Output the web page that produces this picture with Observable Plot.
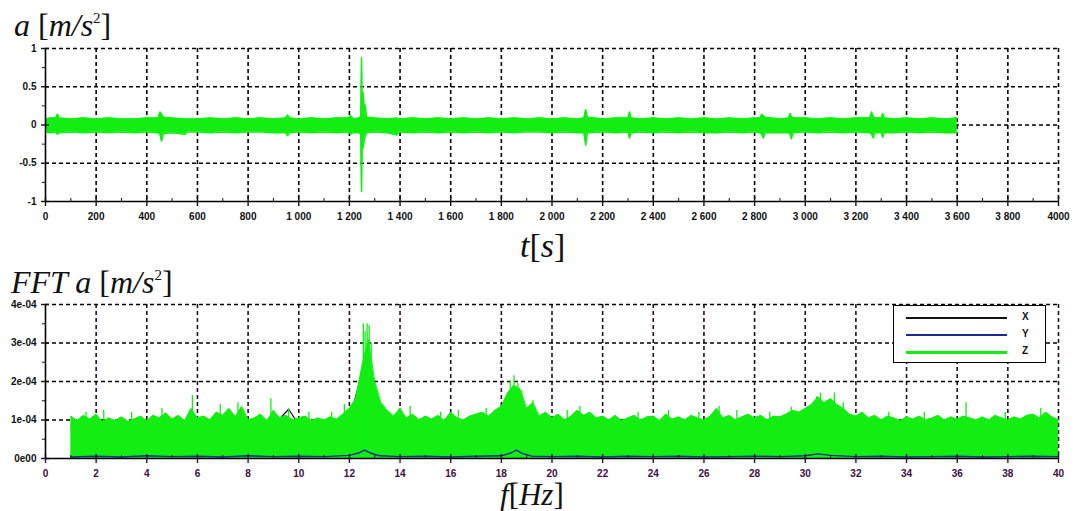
<!DOCTYPE html>
<html>
<head>
<meta charset="utf-8">
<script src="https://cdn.jsdelivr.net/npm/d3@7"></script>
<script src="https://cdn.jsdelivr.net/npm/@observablehq/plot@0.6"></script>
<style>
  html, body { margin: 0; padding: 0; background: #fff; }
  #wrap { position: relative; width: 1075px; height: 511px; overflow: hidden; background: #fff; }
  .panel { position: absolute; left: 0; }
  .ttl { position: absolute; font-family: "Liberation Serif", "DejaVu Serif", serif; font-size: 31px; color: #111; white-space: nowrap; line-height: 1; }
  .ttl sup { font-size: 15px; vertical-align: 13px; line-height: 0; }
  #legend { position: absolute; left: 893px; top: 305px; width: 151px; height: 56px; border: 1.6px solid #000; background: #fff; }
  #legend .row { position: absolute; left: 12px; width: 101px; height: 2px; }
  #legend .lab { position: absolute; left: 128px; font-family: "Liberation Sans", Arial, sans-serif; font-weight: bold; font-size: 10px; color: #111; }
</style>
</head>
<body>
<div id="wrap">
  <div id="topPlot" class="panel" style="top:0"></div>
  <div id="botPlot" class="panel" style="top:260px"></div>
  <div class="ttl" style="left:14px;top:9px;font-size:32px"><i>a</i> [<i>m/s</i><sup>2</sup>]</div>
  <div class="ttl" style="left:520px;top:229px;font-size:34px"><i>t</i>[<i>s</i>]</div>
  <div class="ttl" style="left:11px;top:266px;font-size:32px"><i>FFT a</i> [<i>m/s</i><sup>2</sup>]</div>
  <div class="ttl" style="left:500px;top:479px;font-size:31px"><i>f</i>[<i>Hz</i>]</div>
  <div id="legend"></div>
</div>
<script>
// ---------- Top panel: acceleration vs time (envelope of the signal) ----------
const accT  = [0,20,40,47,54,100,150,200,250,300,350,400,445,452,458,466,500,550,560,600,650,700,750,800,850,900,948,956,964,1000,1050,1100,1150,1195,1205,1215,1240,1245,1248,1251,1254,1258,1262,1268,1300,1350,1388,1395,1450,1500,1550,1600,1650,1700,1750,1800,1850,1900,1950,2000,2050,2100,2126,2133,2140,2200,2250,2300,2306,2312,2350,2400,2450,2500,2550,2600,2650,2700,2750,2800,2822,2828,2834,2842,2900,2935,2940,2945,2952,3000,3050,3100,3150,3200,3255,3262,3268,3275,3300,3306,3312,3350,3400,3450,3500,3550,3600];
const accHi = [.08,.09,.09,.14,.09,.08,.09,.08,.09,.08,.08,.09,.09,.17,.14,.10,.09,.08,.08,.08,.09,.08,.09,.08,.09,.08,.09,.13,.09,.08,.09,.08,.09,.09,.12,.08,.09,.12,.88,.15,.42,.25,.26,.10,.09,.08,.09,.08,.09,.08,.09,.08,.09,.08,.09,.08,.09,.08,.09,.08,.09,.08,.09,.20,.10,.08,.09,.09,.17,.09,.08,.09,.08,.09,.08,.09,.08,.09,.08,.09,.09,.14,.12,.10,.08,.09,.15,.11,.09,.09,.08,.09,.08,.09,.09,.17,.11,.09,.09,.15,.09,.08,.09,.08,.09,.08,.09];
const accLo = [-.09,-.10,-.09,-.12,-.10,-.09,-.10,-.09,-.10,-.09,-.10,-.09,-.10,-.12,-.21,-.11,-.10,-.12,-.09,-.09,-.10,-.09,-.10,-.09,-.09,-.10,-.10,-.14,-.10,-.09,-.10,-.09,-.10,-.09,-.12,-.10,-.10,-.12,-.87,-.12,-.30,-.20,-.15,-.10,-.09,-.10,-.13,-.09,-.10,-.09,-.10,-.09,-.10,-.09,-.10,-.09,-.10,-.09,-.09,-.10,-.09,-.10,-.10,-.26,-.10,-.09,-.10,-.09,-.17,-.10,-.09,-.10,-.09,-.10,-.09,-.10,-.10,-.09,-.10,-.09,-.10,-.12,-.17,-.10,-.10,-.10,-.12,-.18,-.10,-.09,-.10,-.09,-.10,-.09,-.10,-.12,-.17,-.10,-.10,-.16,-.10,-.10,-.09,-.10,-.09,-.10,-.10];

const topXTicks  = [0,200,400,600,800,1000,1200,1400,1600,1800,2000,2200,2400,2600,2800,3000,3200,3400,3600,3800,4000];
const topXLabels = ["0","200","400","600","800","1 000","1 200","1 400","1 600","1 800","2 000","2 200","2 400","2 600","2 800","3 000","3 200","3 400","3 600","3 800","4000"];
const topXMinor  = [100,300,500,700,900,1100,1300,1500,1700,1900,2100,2300,2500,2700,2900,3100,3300,3500,3700,3900];
const topYTicks  = [-1,-0.5,0,0.5,1];
const topYLabels = ["-1","-0.5","0","0.5","1"];
const topYMinor  = [-0.75,-0.25,0.25,0.75];

// ---------- Bottom panel: FFT spectrum (units of 1e-4 m/s^2) ----------
const zStart = 1, zStep = 0.25; // sampling grid of the Z envelope, 1 Hz .. 40 Hz
const zEnvelope = [
  1.10,0.98,1.12,1.02, 1.15,0.95,1.05,0.98, 1.08,0.96,1.02,1.10, 0.98,1.12,1.05,1.18,
  1.02,1.12,0.98,1.30, 1.05,1.10,1.00,1.20, 1.12,1.30,1.08,1.35, 1.00,1.05,1.15,0.98,
  1.25,1.05,1.12,1.00, 1.05,1.10,0.98,1.05, 1.00,1.08,1.02,1.15, 1.30,1.55,2.40,3.10,
  2.00,1.45,1.25,1.10, 1.30,1.05,1.15,1.00, 1.10,1.02,1.12,0.98, 1.20,1.05,1.00,1.10,
  1.15,1.20,1.10,1.25, 1.35,1.70,1.90,1.80, 1.30,1.45,1.10,1.20, 1.05,1.15,1.00,1.10,
  1.25,1.12,1.20,1.05, 1.10,1.00,1.12,0.98, 1.05,1.12,1.00,1.08, 1.10,0.98,1.15,1.02,
  1.08,1.00,1.12,1.05, 1.00,1.10,1.30,1.05, 1.12,1.00,1.08,1.15, 1.05,1.12,1.00,1.10,
  1.08,1.15,1.25,1.20, 1.30,1.40,1.60,1.45, 1.55,1.40,1.30,1.15, 1.10,1.20,1.05,1.12,
  1.00,1.10,1.05,0.98, 1.08,1.02,1.10,1.00, 1.05,1.12,1.00,1.08, 1.02,1.10,1.05,1.00,
  1.08,1.00,1.12,1.05, 1.00,1.08,1.02,1.12, 1.15,1.05,1.20,1.08, 1.00
];
const zSpikeF = [1.6,2.3,3.4,4.6,5.8,6.9,7.6,8.9,9.6,10.4,11.3,11.8,12.55,12.62,12.7,12.78,12.86,14.0,14.4,15.6,16.3,17.4,18.35,18.5,18.65,18.8,19.25,20.6,21.1,23.4,24.6,25.8,26.6,27.3,28.6,29.45,30.45,30.6,30.85,31.15,31.5,33.3,34.7,36.35,37.9,39.3];
const zSpikeH = [1.20,1.25,1.20,1.30,1.64,1.40,1.45,1.55,1.30,1.20,1.20,1.40,3.50,3.30,3.50,3.45,3.00,1.30,1.35,1.20,1.25,1.30,2.00,2.15,1.95,1.75,1.50,1.25,1.35,1.20,1.25,1.20,1.35,1.25,1.20,1.33,1.60,1.70,1.50,1.70,1.45,1.20,1.20,1.45,1.20,1.30];

const yFreq = [1,2,3,4,5,6,7,8,9,10,11,12,12.4,12.6,12.8,13.2,14,15,16,17,18,18.4,18.6,18.8,19.2,20,21,22,23,24,25,26,27,28,29,30,30.5,31,32,33,34,35,36,37,38,39,40];
const yAmp  = [.04,.06,.04,.07,.05,.06,.04,.07,.05,.06,.05,.08,.15,.22,.15,.07,.05,.06,.04,.06,.07,.15,.22,.14,.06,.05,.06,.04,.06,.05,.06,.04,.05,.06,.05,.07,.12,.08,.05,.06,.04,.05,.06,.04,.05,.06,.05];

const xFreq = [1,2,3,4,5,6,7,8,9,9.6,10,11,12,12.7,13,14,15,16,17,18,18.6,19,20,21,22,23,24,25,26,27,28,29,30,30.6,31,32,33,34,35,36,37,38,39,40];
const xAmp  = [.85,.88,.84,.90,.86,.88,.85,.87,.86,1.28,.88,.86,.95,2.8,1.2,.86,.85,.87,.88,.95,1.6,.95,.86,.87,.85,.88,.86,.85,.87,.86,.88,.90,.98,1.3,1.0,.86,.85,.87,.86,.88,.85,.87,.86,.85];

const botXTicks = [0,2,4,6,8,10,12,14,16,18,20,22,24,26,28,30,32,34,36,38,40];
const botXMinor = [1,3,5,7,9,11,13,15,17,19,21,23,25,27,29,31,33,35,37,39];
const botYTicks = [0,1,2,3,4];
const botYLabels = ["0e00","1e-04","2e-04","3e-04","4e-04"];
const botYMinor = [0.5,1.5,2.5,3.5];

const legendNames  = ["X","Y","Z"];
const legendColors = ["#111111","#1b2a96","#12ee12"];

// ---------- build ----------
const GREEN = "#12ee12", BLUE = "#1b2a96", BLACK = "#111111";
const gridStyle = {stroke: "#000", strokeOpacity: 1, strokeDasharray: "4,3", strokeWidth: 1.6};
const font = {fontFamily: "'Liberation Sans', Arial, sans-serif", fontSize: "10px", fontWeight: "bold", color: "#111", background: "white", overflow: "visible"};

const accData = accT.map((t, i) => ({t, hi: accHi[i], lo: accLo[i]}));

const topPlot = Plot.plot({
  width: 1075, height: 235,
  marginTop: 48, marginBottom: 34, marginLeft: 45, marginRight: 17,
  style: font,
  x: {domain: [0, 4000], label: null},
  y: {domain: [-1, 1], label: null},
  marks: [
    Plot.gridX(topXTicks.slice(1), gridStyle),
    Plot.gridY(topYTicks.slice(1), gridStyle),
    Plot.areaY(accData, {x: "t", y1: "lo", y2: "hi", fill: GREEN}),
    Plot.lineY(accData, {x: "t", y: "hi", stroke: GREEN, strokeWidth: 1.5}),
    Plot.lineY(accData, {x: "t", y: "lo", stroke: GREEN, strokeWidth: 1.5}),
    Plot.ruleY([-1], {stroke: "#000", strokeWidth: 1.6}),
    Plot.ruleX([0], {stroke: "#000", strokeWidth: 1.6}),
    Plot.axisX({ticks: topXTicks, tickFormat: d => topXLabels[topXTicks.indexOf(d)], tickSize: 5, tickPadding: 6, label: null, strokeWidth: 1.4}),
    Plot.axisX({ticks: topXTicks, tickFormat: () => "", tickSize: -4, label: null, strokeWidth: 1.4}),
    Plot.axisX({ticks: topXMinor, tickFormat: () => "", tickSize: -3, label: null}),
    Plot.axisY({ticks: topYTicks, tickFormat: d => topYLabels[topYTicks.indexOf(d)], tickSize: 4, tickPadding: 5, label: null, strokeWidth: 1.4}),
    Plot.axisY({ticks: topYTicks, tickFormat: () => "", tickSize: -4, label: null, strokeWidth: 1.4}),
    Plot.axisY({ticks: topYMinor, tickFormat: () => "", tickSize: 3, label: null})
  ]
});
document.getElementById("topPlot").append(topPlot);

const zData = zEnvelope.map((v, i) => ({f: zStart + i * zStep, a: v}));
const zSpikes = zSpikeF.map((f, i) => ({f, a: zSpikeH[i]}));
const yData = yFreq.map((f, i) => ({f, a: yAmp[i]}));
const xData = xFreq.map((f, i) => ({f, a: xAmp[i]}));

const botPlot = Plot.plot({
  width: 1075, height: 225,
  marginTop: 44, marginBottom: 27, marginLeft: 45, marginRight: 17,
  style: font,
  x: {domain: [0, 40], label: null},
  y: {domain: [0, 4], label: null},
  marks: [
    Plot.gridX(botXTicks.slice(1), {...gridStyle, stroke: "#2a0a2a"}),
    Plot.gridY(botYTicks.slice(1), gridStyle),
    Plot.lineY(xData, {x: "f", y: "a", stroke: BLACK, strokeWidth: 1.2}),
    Plot.areaY(zData, {x: "f", y: "a", fill: GREEN}),
    Plot.lineY(zData, {x: "f", y: "a", stroke: GREEN, strokeWidth: 1}),
    Plot.ruleX(zSpikes, {x: "f", y1: 0, y2: "a", stroke: GREEN, strokeWidth: 1.3}),
    Plot.lineY(yData, {x: "f", y: "a", stroke: BLUE, strokeWidth: 1.4}),
    Plot.ruleY([0], {stroke: "#000", strokeWidth: 1.6}),
    Plot.ruleX([0], {stroke: "#000", strokeWidth: 1.6}),
    Plot.axisX({ticks: botXTicks, tickFormat: d => String(d), tickSize: 5, tickPadding: 6, label: null, strokeWidth: 1.4, color: "#3a1040"}),
    Plot.axisX({ticks: botXTicks, tickFormat: () => "", tickSize: -4, label: null, strokeWidth: 1.4}),
    Plot.axisX({ticks: botXMinor, tickFormat: () => "", tickSize: -3, label: null}),
    Plot.axisY({ticks: botYTicks, tickFormat: d => botYLabels[botYTicks.indexOf(d)], tickSize: 4, tickPadding: 5, label: null, strokeWidth: 1.4}),
    Plot.axisY({ticks: botYTicks, tickFormat: () => "", tickSize: -4, label: null, strokeWidth: 1.4}),
    Plot.axisY({ticks: botYMinor, tickFormat: () => "", tickSize: 3, label: null})
  ]
});
document.getElementById("botPlot").append(botPlot);

// legend
const lg = document.getElementById("legend");
legendNames.forEach((n, i) => {
  const row = document.createElement("div");
  row.className = "row";
  row.style.top = (11 + i * 17) + "px";
  row.style.background = legendColors[i];
  if (i === 2) row.style.height = "2.5px";
  lg.append(row);
  const lab = document.createElement("div");
  lab.className = "lab";
  lab.style.top = (5 + i * 17) + "px";
  lab.textContent = n;
  lg.append(lab);
});
</script>
</body>
</html>
